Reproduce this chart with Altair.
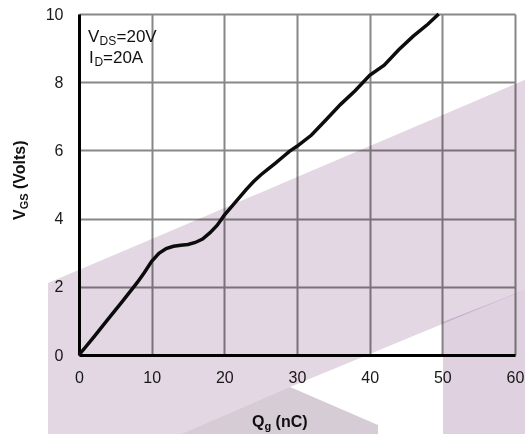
import altair as alt
import pandas as pd

# ---- data ----
qg_nc = [0, 2, 4, 6, 8, 9, 10, 11, 12, 13, 14, 15, 16, 17, 18, 19, 20, 21, 22, 23,
         24, 25, 26, 27, 28, 29, 30, 32, 34, 36, 38, 40, 42, 44, 46, 48, 49.5]
vgs_v = [0, 0.52, 1.05, 1.58, 2.12, 2.42, 2.75, 2.98, 3.12, 3.19, 3.22, 3.24, 3.3,
         3.4, 3.58, 3.8, 4.1, 4.35, 4.6, 4.85, 5.08, 5.28, 5.45, 5.62, 5.8, 5.98,
         6.12, 6.45, 6.9, 7.35, 7.75, 8.2, 8.5, 8.95, 9.35, 9.7, 10.0]
x_ticks = [0, 10, 20, 30, 40, 50, 60]
y_ticks = [0, 2, 4, 6, 8, 10]

# background watermark outline, in chart units (Q, V)
wm_band_q = [-4.27, 12.52, 29.04, 61.38]
wm_band_top = [2.11, 3.63, 5.13, 8.07]
wm_band_bot = [-2.49, -2.46, -0.94, 1.91]
wm_gray_q = [12.52, 29.04, 41.15]
wm_gray_top = [-2.46, -0.94, -2.05]
wm_gray_bot = [-2.49, -2.49, -2.49]
wm_side_q = [50.09, 61.38]
wm_side_top = [0.97, 1.91]
wm_side_bot = [-2.49, -2.49]

FONT = "Liberation Sans"
xs = alt.Scale(domain=[0, 60], nice=False, zero=False)
ys = alt.Scale(domain=[0, 10], nice=False, zero=False)

x_axis = alt.Axis(
    values=x_ticks, title=None, grid=True, gridColor="#878787", gridWidth=2,
    domainColor="#000000", domainWidth=3, ticks=False, labelFont=FONT,
    labelFontSize=16, labelColor="#1a1a1a", labelPadding=14,
    labelFlush=False, labelOverlap=False)
y_axis = alt.Axis(
    values=y_ticks, title=None, grid=True, gridColor="#878787", gridWidth=2,
    domainColor="#000000", domainWidth=3, ticks=False, labelFont=FONT,
    labelFontSize=16, labelColor="#1a1a1a", labelPadding=16,
    labelFlush=False, labelOverlap=False)

curve = pd.DataFrame({"q": qg_nc, "v": vgs_v})

line = alt.Chart(curve).mark_line(color="#0d0d0d", strokeWidth=3.5).encode(
    x=alt.X("q:Q", scale=xs, axis=x_axis),
    y=alt.Y("v:Q", scale=ys, axis=y_axis),
)


def wm(qs, top, bot, color):
    df = pd.DataFrame({"q": qs, "t": top, "b": bot})
    return alt.Chart(df).mark_area(color=color, blend="multiply", interpolate="linear").encode(
        x=alt.X("q:Q", scale=xs, axis=x_axis),
        y=alt.Y("t:Q", scale=ys, axis=y_axis),
        y2="b:Q",
    )


one = pd.DataFrame({"k": [0]})


def frag(text, x, y, size, bold=False, angle=0):
    kw = dict(text=text, align="left", baseline="alphabetic", font=FONT,
              fontSize=size, fontWeight="bold" if bold else "normal", color="#111111")
    if angle:
        kw["angle"] = angle
    return alt.Chart(one).mark_text(**kw).encode(x=alt.value(x), y=alt.value(y))


def note(text, q, v, size, dx=0, dy=0):
    return alt.Chart(one).mark_text(
        text=text, align="left", baseline="alphabetic", font=FONT, fontSize=size,
        color="#111111", dx=dx, dy=dy).encode(
        x=alt.XDatum(q, scale=xs, axis=x_axis),
        y=alt.YDatum(v, scale=ys, axis=y_axis),
    )


texts = [
    note("V", 1.24, 9.18, 17),
    note("DS", 1.24, 9.18, 12, dx=11.5, dy=3),
    note("=20V", 1.24, 9.18, 17, dx=28.5),
    note("I", 1.24, 8.55, 17, dx=1),
    note("D", 1.24, 8.55, 12, dx=6.5, dy=3),
    note("=20A", 1.24, 8.55, 17, dx=15),
    # x-axis title Q_g (nC)
    frag("Q", 173, 413, 16, True),
    frag("g", 185.5, 416, 11, True),
    frag("(nC)", 196.6, 413, 16, True),
    # y-axis title V_GS (Volts)
    frag("V", -54, 206, 16, True, 270),
    frag("GS", -51.5, 195.3, 11, True, 270),
    frag("(Volts)", -54, 175.0, 16, True, 270),
]

chart = alt.layer(
    line,
    *texts,
    wm(wm_band_q, wm_band_top, wm_band_bot, "#e4d7e4"),
    wm(wm_gray_q, wm_gray_top, wm_gray_bot, "#d5ccd5"),
    wm(wm_side_q, wm_side_top, wm_side_bot, "#dfd1df"),
).properties(
    width=436, height=341,
    autosize=alt.AutoSizeParams(type="none"),
    padding={"left": 79, "top": 14, "right": 10, "bottom": 79},
    background="#ffffff",
).configure_view(stroke=None)

chart.save("out.html", embed_options={"renderer": "svg", "actions": False})
